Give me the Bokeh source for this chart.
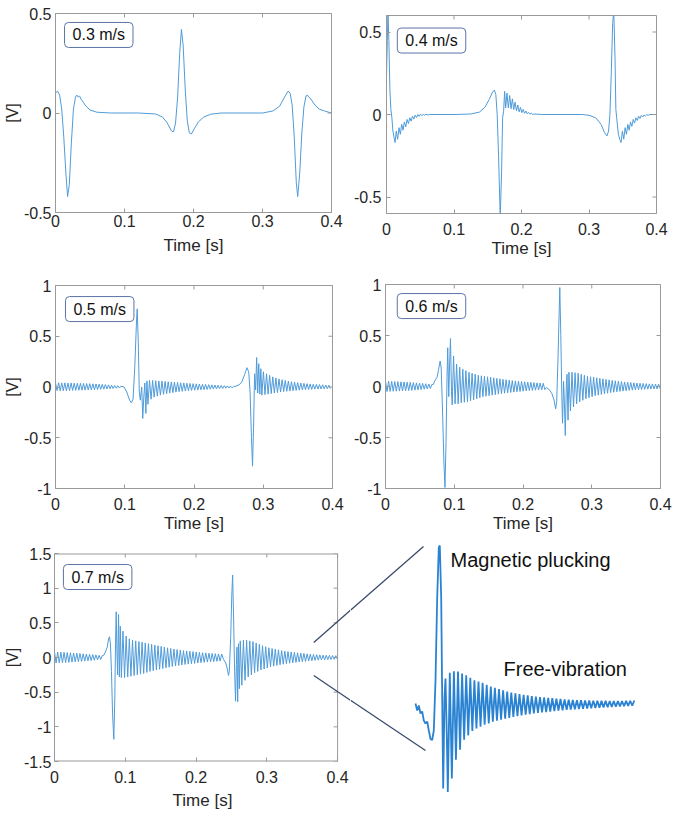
import math
from bokeh.plotting import figure
from bokeh.layouts import column, row
from bokeh.models import Range1d, FixedTicker, Label
from bokeh.embed import file_html
from bokeh.resources import INLINE

# ---------------- data ----------------
X_TICKS = [0, 0.1, 0.2, 0.3, 0.4]
X_TICK_LABELS = ["0", "0.1", "0.2", "0.3", "0.4"]

Y_TICKS_05 = [-0.5, 0, 0.5]
Y_TICK_LABELS_05 = ["-0.5", "0", "0.5"]
Y_TICKS_1 = [-1, -0.5, 0, 0.5, 1]
Y_TICK_LABELS_1 = ["-1", "-0.5", "0", "0.5", "1"]
Y_TICKS_15 = [-1.5, -1, -0.5, 0, 0.5, 1, 1.5]
Y_TICK_LABELS_15 = ["-1.5", "-1", "-0.5", "0", "0.5", "1", "1.5"]

SPEEDS = ["0.3 m/s", "0.4 m/s", "0.5 m/s", "0.6 m/s", "0.7 m/s"]

RIPPLE_DT = 0.00225   # half period of the free vibration samples [s]
INSET_DT = 0.00205

# 0.3 m/s  (t [s], V)
P1_PTS = [(0.000, 0.10), (0.003, 0.11), (0.006, 0.09), (0.009, 0.02), (0.012, -0.12), (0.015, -0.30),
          (0.0175, -0.42), (0.020, -0.36), (0.023, -0.15), (0.026, 0.02), (0.029, 0.08), (0.031, 0.09),
          (0.033, 0.08), (0.035, 0.085), (0.037, 0.07), (0.040, 0.055), (0.044, 0.035), (0.050, 0.015),
          (0.060, 0.004), (0.080, 0.0), (0.120, 0.0), (0.145, -0.005), (0.155, -0.02), (0.162, -0.05),
          (0.168, -0.09), (0.171, -0.095), (0.174, -0.05), (0.177, 0.08), (0.180, 0.30), (0.1825, 0.42),
          (0.185, 0.34), (0.188, 0.12), (0.191, -0.04), (0.194, -0.10), (0.197, -0.105), (0.201, -0.08),
          (0.207, -0.045), (0.215, -0.02), (0.225, -0.006), (0.240, 0.0), (0.300, 0.0), (0.315, 0.01),
          (0.325, 0.035), (0.332, 0.08), (0.337, 0.11), (0.340, 0.10), (0.343, 0.04), (0.346, -0.12),
          (0.349, -0.35), (0.351, -0.42), (0.354, -0.30), (0.357, -0.10), (0.360, 0.03), (0.363, 0.085),
          (0.365, 0.09), (0.367, 0.08), (0.369, 0.075), (0.372, 0.06), (0.376, 0.04), (0.382, 0.02),
          (0.390, 0.01), (0.400, 0.0)]

# 0.4 m/s
P2_PTS = [(0.0, 0.22), (0.0012, 0.45), (0.0022, 0.62), (0.0035, 0.45), (0.005, 0.15), (0.0065, 0.03),
          (0.008, -0.02), (0.0095, -0.1), (0.0112, -0.14), (0.0127, -0.17), (0.0145, -0.10), (0.0165, -0.15),
          (0.0185, -0.08), (0.0205, -0.12), (0.0225, -0.06), (0.0245, -0.095), (0.0265, -0.045),
          (0.0285, -0.075), (0.0305, -0.03), (0.0325, -0.055), (0.0345, -0.02), (0.0365, -0.04),
          (0.0385, -0.01), (0.0405, -0.028), (0.0425, -0.004), (0.0445, -0.018), (0.0465, 0.0),
          (0.0485, -0.011), (0.0505, 0.002), (0.0525, -0.007), (0.0545, 0.002), (0.0565, -0.004),
          (0.0585, 0.001), (0.0605, -0.002), (0.065, 0.0), (0.100, 0.0), (0.125, 0.003), (0.138, 0.015),
          (0.146, 0.045), (0.152, 0.09), (0.157, 0.135), (0.1598, 0.148), (0.162, 0.12), (0.164, 0.0),
          (0.166, -0.25), (0.1685, -0.62), (0.1705, -0.35), (0.172, -0.02), (0.1735, 0.02), (0.175, 0.14),
          (0.1765, 0.04), (0.1785, 0.13), (0.1805, 0.04), (0.1825, 0.115), (0.1845, 0.035), (0.1865, 0.095),
          (0.1885, 0.03), (0.1905, 0.075), (0.1925, 0.022), (0.1945, 0.058), (0.1965, 0.016),
          (0.1985, 0.043), (0.2005, 0.011), (0.2025, 0.031), (0.2045, 0.007), (0.2065, 0.021),
          (0.2085, 0.004), (0.2105, 0.013), (0.2125, 0.002), (0.2145, 0.008), (0.2165, 0.001),
          (0.220, 0.003), (0.230, 0.0), (0.290, 0.0), (0.300, -0.005), (0.310, -0.02), (0.318, -0.06),
          (0.323, -0.11), (0.3266, -0.13), (0.329, -0.1), (0.331, 0.0), (0.333, 0.25), (0.335, 0.55),
          (0.3367, 0.63), (0.3385, 0.35), (0.3398, 0.03), (0.341, -0.02), (0.3435, -0.12), (0.3455, -0.15),
          (0.3475, -0.17), (0.3495, -0.10), (0.3515, -0.15), (0.3535, -0.08), (0.3555, -0.12),
          (0.3575, -0.06), (0.3595, -0.095), (0.3615, -0.045), (0.3635, -0.072), (0.3655, -0.03),
          (0.3675, -0.052), (0.3695, -0.02), (0.3715, -0.036), (0.3735, -0.011), (0.3755, -0.024),
          (0.3775, -0.006), (0.3795, -0.015), (0.3815, -0.003), (0.3835, -0.009), (0.3855, -0.001),
          (0.3875, -0.005), (0.390, 0.0), (0.400, 0.0)]

# 0.5 m/s
P3_PRE = [0.04, -0.035, 0.042, -0.038, 0.04, -0.036, 0.041, -0.037, 0.039, -0.035,
          0.04, -0.034, 0.038, -0.033, 0.037, -0.032, 0.036, -0.031, 0.035, -0.03,
          0.034, -0.029, 0.033, -0.028, 0.031, -0.027, 0.03, -0.025, 0.028, -0.023,
          0.026, -0.021, 0.024, -0.019, 0.021, -0.017, 0.018, -0.015, 0.015, -0.012,
          0.012, -0.01, 0.008]
P3_EV1 = [(0.099, 0.0), (0.103, -0.05), (0.107, -0.13), (0.1095, -0.155), (0.112, -0.12), (0.1145, 0.2),
          (0.117, 0.65), (0.118, 0.77), (0.1195, 0.45), (0.121, -0.05), (0.1225, -0.13), (0.1235, -0.06),
          (0.1245, 0.0), (0.126, -0.31), (0.1275, -0.1), (0.129, 0.04), (0.1305, -0.26), (0.132, 0.06)]
P3_MID = [-0.17, 0.065, -0.12, 0.065, -0.10, 0.062, -0.09, 0.06, -0.08, 0.058,
          -0.072, 0.055, -0.065, 0.052, -0.06, 0.05, -0.055, 0.047, -0.05, 0.045,
          -0.046, 0.042, -0.043, 0.04, -0.04, 0.037, -0.037, 0.035, -0.034, 0.033,
          -0.032, 0.031, -0.03, 0.029, -0.028, 0.027, -0.026, 0.025, -0.024, 0.023,
          -0.022, 0.021, -0.02, 0.019, -0.018, 0.017, -0.016, 0.015, -0.014, 0.013,
          -0.012, 0.011, -0.01, 0.009, -0.008, 0.007]
P3_EV2 = [(0.259, 0.005), (0.265, 0.02), (0.269, 0.05), (0.273, 0.12), (0.2765, 0.19), (0.279, 0.15),
          (0.281, -0.05), (0.283, -0.5), (0.2845, -0.78), (0.286, -0.4), (0.2875, 0.13), (0.289, -0.03),
          (0.2905, 0.29), (0.292, -0.06), (0.2935, 0.23), (0.295, -0.07), (0.2965, 0.18)]
P3_POST = [-0.08, 0.15, -0.075, 0.13, -0.07, 0.115, -0.065, 0.10, -0.06, 0.09,
           -0.055, 0.08, -0.05, 0.072, -0.045, 0.065, -0.042, 0.058, -0.04, 0.052,
           -0.037, 0.047, -0.034, 0.043, -0.031, 0.039, -0.029, 0.036, -0.027, 0.033,
           -0.025, 0.03, -0.023, 0.028, -0.021, 0.026, -0.02, 0.024, -0.019, 0.022,
           -0.018, 0.02, -0.017, 0.018, -0.016]

# 0.6 m/s
P4_PRE = [0.05, -0.05, 0.052, -0.048, 0.05, -0.047, 0.049, -0.046, 0.048, -0.045,
          0.046, -0.044, 0.045, -0.042, 0.043, -0.04, 0.041, -0.038, 0.039, -0.036,
          0.036, -0.033, 0.033, -0.03, 0.03, -0.027, 0.027, -0.024, 0.024, -0.02, 0.02]
P4_EV1 = [(0.0695, 0.02), (0.072, 0.06), (0.075, 0.09), (0.077, 0.16), (0.0795, 0.25), (0.081, 0.18),
          (0.083, -0.25), (0.085, -0.75), (0.0865, -0.99), (0.088, -0.55), (0.0895, 0.1), (0.0905, 0.38),
          (0.092, -0.1), (0.0935, 0.28), (0.0945, 0.47), (0.096, -0.05), (0.097, -0.18), (0.099, 0.3)]
P4_MID = [-0.17, 0.22, -0.17, 0.19, -0.16, 0.17, -0.155, 0.155, -0.15, 0.14,
          -0.14, 0.13, -0.13, 0.12, -0.12, 0.11, -0.11, 0.105, -0.1, 0.1,
          -0.095, 0.095, -0.09, 0.09, -0.085, 0.085, -0.08, 0.08, -0.075, 0.075,
          -0.07, 0.07, -0.066, 0.066, -0.062, 0.062, -0.058, 0.058, -0.055, 0.055,
          -0.052, 0.052, -0.049, 0.049, -0.046, 0.046, -0.043, 0.043, -0.04, 0.04,
          -0.038, 0.038, -0.036, 0.036, -0.034, 0.034, -0.032, 0.032, -0.03]
P4_EV2 = [(0.234, -0.01), (0.238, -0.03), (0.242, -0.07), (0.245, -0.13), (0.2475, -0.22), (0.249, -0.15),
          (0.251, 0.3), (0.2535, 0.97), (0.255, 0.5), (0.2565, -0.1), (0.2575, -0.36), (0.259, 0.05),
          (0.2602, -0.15), (0.2615, -0.48), (0.263, 0.0), (0.264, 0.12), (0.2655, -0.33), (0.2668, 0.14)]
P4_POST = [-0.24, 0.14, -0.2, 0.135, -0.17, 0.13, -0.15, 0.12, -0.135, 0.11,
           -0.12, 0.1, -0.11, 0.095, -0.1, 0.09, -0.09, 0.085, -0.085, 0.08,
           -0.078, 0.075, -0.072, 0.07, -0.066, 0.065, -0.06, 0.06, -0.056, 0.056,
           -0.052, 0.052, -0.048, 0.048, -0.045, 0.045, -0.042, 0.042, -0.039, 0.039,
           -0.036, 0.036, -0.034, 0.034, -0.032, 0.032, -0.03, 0.03, -0.028, 0.028,
           -0.026, 0.026, -0.025, 0.025, -0.024, 0.024, -0.023, 0.023, -0.022]

# 0.7 m/s
P5_PRE = [0.08, -0.08, 0.078, -0.077, 0.076, -0.075, 0.074, -0.072, 0.071, -0.07,
          0.068, -0.066, 0.065, -0.063, 0.062, -0.06, 0.058, -0.056, 0.054, -0.052,
          0.05, -0.048, 0.046, -0.044, 0.042, -0.04, 0.038, -0.035, 0.032, -0.03, 0.028]
P5_EV1 = [(0.0695, 0.03), (0.072, 0.08), (0.0745, 0.15), (0.0765, 0.27), (0.0777, 0.30), (0.079, 0.2),
          (0.0805, -0.2), (0.082, -0.8), (0.0838, -1.18), (0.0852, -0.6), (0.0862, 0.2), (0.0872, 0.66),
          (0.0882, 0.1), (0.0892, -0.25), (0.0905, 0.62), (0.0917, -0.28), (0.093, 0.45)]
P5_MID = [-0.29, 0.38, -0.29, 0.31, -0.28, 0.27, -0.27, 0.25, -0.26, 0.24,
          -0.25, 0.23, -0.24, 0.22, -0.23, 0.21, -0.215, 0.2, -0.2, 0.19,
          -0.19, 0.18, -0.18, 0.17, -0.17, 0.16, -0.16, 0.15, -0.15, 0.14,
          -0.14, 0.13, -0.13, 0.122, -0.122, 0.115, -0.115, 0.108, -0.108, 0.1,
          -0.1, 0.095, -0.095, 0.09, -0.09, 0.085, -0.085, 0.08, -0.08, 0.075,
          -0.075, 0.07, -0.07, 0.066, -0.066, 0.062, -0.062, 0.058, -0.058, 0.055,
          -0.055, 0.052, -0.052, 0.049]
P5_EV2 = [(0.239, -0.03), (0.242, -0.08), (0.2445, -0.18), (0.2458, -0.26), (0.247, -0.2), (0.249, 0.3),
          (0.2505, 0.9), (0.2517, 1.19), (0.253, 0.6), (0.2545, -0.2), (0.2558, -0.63), (0.257, -0.1),
          (0.2578, 0.15), (0.2588, -0.64), (0.26, 0.2), (0.2612, -0.45), (0.2625, 0.24)]
P5_POST = [-0.4, 0.25, -0.33, 0.25, -0.28, 0.24, -0.25, 0.23, -0.22, 0.21,
           -0.2, 0.19, -0.18, 0.17, -0.165, 0.155, -0.15, 0.14, -0.135, 0.13,
           -0.125, 0.12, -0.115, 0.11, -0.105, 0.1, -0.097, 0.093, -0.09, 0.086,
           -0.083, 0.08, -0.077, 0.074, -0.071, 0.068, -0.065, 0.063, -0.06, 0.058,
           -0.055, 0.053, -0.05, 0.048, -0.046, 0.044, -0.042, 0.04, -0.038, 0.037,
           -0.035, 0.034, -0.033, 0.032, -0.031, 0.03, -0.029, 0.028, -0.027, 0.026,
           -0.025]

# zoomed inset (single pluck, arbitrary time origin)
INSET_PLUCK = [(0.001, 0.0), (0.0027, -0.056), (0.0043, -0.016), (0.006, -0.08), (0.0077, -0.064),
               (0.0093, -0.136), (0.011, -0.16), (0.0127, -0.144), (0.0143, -0.216), (0.016, -0.284),
               (0.0177, -0.292), (0.0193, -0.216), (0.021, 0.184), (0.0227, 0.848), (0.0243, 1.248),
               (0.0253, 1.264), (0.0267, 0.848), (0.0277, 0.048), (0.0287, -0.68), (0.030, 0.048),
               (0.031, 0.2), (0.0323, -0.256), (0.0333, -0.708), (0.0342, -0.296)]
INSET_FREE = [0.245, -0.6, 0.258, -0.45, 0.256, -0.37, 0.24, -0.29, 0.225, -0.255,
              0.205, -0.22, 0.185, -0.2, 0.175, -0.185, 0.165, -0.17, 0.15, -0.16,
              0.135, -0.145, 0.125, -0.138, 0.115, -0.13, 0.105, -0.122, 0.095, -0.115,
              0.088, -0.108, 0.082, -0.102, 0.076, -0.096, 0.07, -0.09, 0.065, -0.085,
              0.06, -0.08, 0.056, -0.076, 0.052, -0.072, 0.048, -0.068, 0.045, -0.064,
              0.042, -0.06, 0.039, -0.057, 0.036, -0.054, 0.033, -0.051, 0.031, -0.048,
              0.029, -0.046, 0.027, -0.044, 0.026, -0.042, 0.025, -0.04, 0.024, -0.038,
              0.023, -0.036, 0.022, -0.034, 0.021, -0.032, 0.021, -0.03, 0.02, -0.028,
              0.02, -0.026, 0.02, -0.024, 0.02, -0.022, 0.021, -0.02, 0.022, -0.018,
              0.024]
INSET_TEXT = ["Magnetic plucking", "Free-vibration"]

# ---------------- styling ----------------
FONT = "Liberation Sans"
LINE_COL = "#4f9bd9"
INSET_COL = "#2a82d2"
AX_COL = "#9a9a9a"
TXT_COL = "#262626"
BOX_COL = "#5b74a6"
CONN_COL = "#3b4a6b"


def trace(*segments):
    ts, vs = [], []
    for seg in segments:
        if seg[0] == "pts":
            for t, v in seg[1]:
                ts.append(t)
                vs.append(v)
        else:
            _, t0, dt, vals = seg
            for i, v in enumerate(vals):
                ts.append(t0 + i * dt)
                vs.append(v)
    return ts, vs


def style_axis(ax, ticks, labels, standoff, label_standoff):
    ax.ticker = FixedTicker(ticks=ticks)
    ax.major_label_overrides = {k: lab for k, lab in zip(ticks, labels)}
    ax.axis_line_color = AX_COL
    ax.major_tick_line_color = AX_COL
    ax.major_tick_in = 4
    ax.major_tick_out = 0
    ax.minor_tick_line_color = None
    ax.major_label_text_font = FONT
    ax.major_label_text_font_size = "16px"
    ax.major_label_text_color = TXT_COL
    ax.major_label_standoff = standoff
    ax.axis_label_text_font = FONT
    ax.axis_label_text_font_size = "17px"
    ax.axis_label_text_font_style = "normal"
    ax.axis_label_text_color = TXT_COL
    ax.axis_label_standoff = label_standoff


def panel(width, height, borders, ylim, yticks, ylabels, ylabel, tag, tag_xy, t, v,
          xs_off, xl_off, ys_off, x_end=0.4):
    """x_end > 0.4 lets the frame run on to the canvas edge (box still drawn at 0.4)."""
    left, right, top, bottom = borders
    p = figure(width=width, height=height, x_range=Range1d(0, x_end), y_range=Range1d(*ylim),
               output_backend="svg", toolbar_location=None, frame_align=False,
               min_border_left=left, min_border_right=right,
               min_border_top=top, min_border_bottom=bottom)
    p.grid.visible = False
    p.background_fill_color = "white"
    p.border_fill_color = "white"
    p.line(t, v, line_color=LINE_COL, line_width=1.0)
    style_axis(p.xaxis[0], X_TICKS, X_TICK_LABELS, xs_off, xl_off)
    style_axis(p.yaxis[0], yticks, ylabels, ys_off, 0)
    p.yaxis[0].axis_label_text_font_size = "16px"
    p.xaxis[0].axis_label = "Time [s]"
    if ylabel:
        p.yaxis[0].axis_label = ylabel
    if x_end > 0.4:
        # box drawn through the data scales when the frame is wider than the box
        p.outline_line_color = None
        p.xaxis[0].axis_line_color = None
        p.line([0, 0.4], [ylim[0], ylim[0]], line_color=AX_COL, line_width=2)
        p.line([0, 0.4], [ylim[1], ylim[1]], line_color=AX_COL, line_width=2)
        p.line([0.4, 0.4], [ylim[0], ylim[1]], line_color=AX_COL, line_width=1)
    else:
        p.outline_line_color = AX_COL
    # inward ticks on the top and right edges of the box
    p.ray(x=X_TICKS, y=[ylim[1]] * len(X_TICKS), length=4, length_units="screen",
          angle=-math.pi / 2, line_color=AX_COL, line_width=1)
    p.ray(x=[0.4] * len(yticks), y=yticks, length=4, length_units="screen",
          angle=math.pi, line_color=AX_COL, line_width=1)
    p.add_layout(Label(x=tag_xy[0], y=tag_xy[1], text=tag, text_font=FONT, text_font_size="16px",
                       text_color="#111111", text_align="left", text_baseline="top",
                       border_line_color=BOX_COL, border_line_width=1, background_fill_color="white",
                       padding=dict(left=8, right=8, top=4, bottom=4), border_radius=4))
    return p


t1, v1 = trace(("pts", P1_PTS))
t2, v2 = trace(("pts", P2_PTS))
t3, v3 = trace(("osc", 0.0, RIPPLE_DT, P3_PRE), ("pts", P3_EV1), ("osc", 0.1335, RIPPLE_DT, P3_MID),
               ("pts", P3_EV2), ("osc", 0.298, RIPPLE_DT, P3_POST))
t4, v4 = trace(("osc", 0.0, RIPPLE_DT, P4_PRE), ("pts", P4_EV1), ("osc", 0.1012, RIPPLE_DT, P4_MID),
               ("pts", P4_EV2), ("osc", 0.269, RIPPLE_DT, P4_POST))
t5, v5 = trace(("osc", 0.0, RIPPLE_DT, P5_PRE), ("pts", P5_EV1), ("osc", 0.0945, RIPPLE_DT, P5_MID),
               ("pts", P5_EV2), ("osc", 0.2647, RIPPLE_DT, P5_POST))
ti, vi = trace(("pts", INSET_PLUCK), ("osc", 0.0353, INSET_DT, INSET_FREE))

p1 = panel(350, 270, (55, 19, 13, 58), (-0.5, 0.5), Y_TICKS_05, Y_TICK_LABELS_05, "[V]",
           SPEEDS[0], (0.0131, 0.455), t1, v1, 2, 6, 4)
p2 = panel(335, 270, (32, 29, 15, 57), (-0.6, 0.6), Y_TICKS_05, Y_TICK_LABELS_05, None,
           SPEEDS[1], (0.016, 0.524), t2, v2, 9, 1, 5)
p3 = panel(350, 270, (54, 18, 15, 52), (-1, 1), Y_TICKS_1, Y_TICK_LABELS_1, "[V]",
           SPEEDS[2], (0.0144, 0.891), t3, v3, 9, 1, 4)
p4 = panel(335, 270, (29, 25, 14, 52), (-1, 1), Y_TICKS_1, Y_TICK_LABELS_1, None,
           SPEEDS[3], (0.0171, 0.911), t4, v4, 9, 1, 4)
# frame of the 0.7 m/s panel runs 13 px past t = 0.4 so the zoom lines reach the canvas edge
P5_X_END = 0.4 * (350 - 52) / (337 - 52)
p5 = panel(350, 277, (52, 0, 13, 56), (-1.5, 1.5), Y_TICKS_15, Y_TICK_LABELS_15, "[V]",
           SPEEDS[4], (0.0126, 1.341), t5, v5, 9, 5, 3, x_end=P5_X_END)

# zoom connector lines: part in the 0.7 m/s panel (its data units) ...
CONN_P5 = [((0.3663, 0.216), (P5_X_END, 0.682)), ((0.3663, -0.26), (P5_X_END, -0.617))]
for (xs, ys), (xe, ye) in CONN_P5:
    p5.line([xs, xe], [ys, ye], line_color=CONN_COL, line_width=1.3)

# inset figure
p6 = figure(width=335, height=277, x_range=Range1d(-0.064, 0.271), y_range=Range1d(-0.912, 1.304),
            x_axis_type=None, y_axis_type=None, output_backend="svg", toolbar_location=None,
            frame_align=False,
            min_border_left=0, min_border_right=0, min_border_top=0, min_border_bottom=0)
p6.outline_line_color = None
p6.grid.visible = False
# ... and the continuation in the inset's units
CONN_P6 = [((-0.064, 0.746), (0.009, 1.256)), ((-0.064, 0.0256), (0.011, -0.376))]
for (xs, ys), (xe, ye) in CONN_P6:
    p6.line([xs, xe], [ys, ye], line_color=CONN_COL, line_width=1.3)
p6.line(ti, vi, line_color=INSET_COL, line_width=1.8)
p6.add_layout(Label(x=0.036, y=1.152, text=INSET_TEXT[0], text_font=FONT, text_font_size="20px",
                    text_color="#111111", text_baseline="middle", text_align="left"))
p6.add_layout(Label(x=0.089, y=0.28, text=INSET_TEXT[1], text_font=FONT, text_font_size="20px",
                    text_color="#111111", text_baseline="middle", text_align="left"))

layout = column(row(p1, p2), row(p3, p4), row(p5, p6))
open("out.html", "w").write(file_html(layout, INLINE))
